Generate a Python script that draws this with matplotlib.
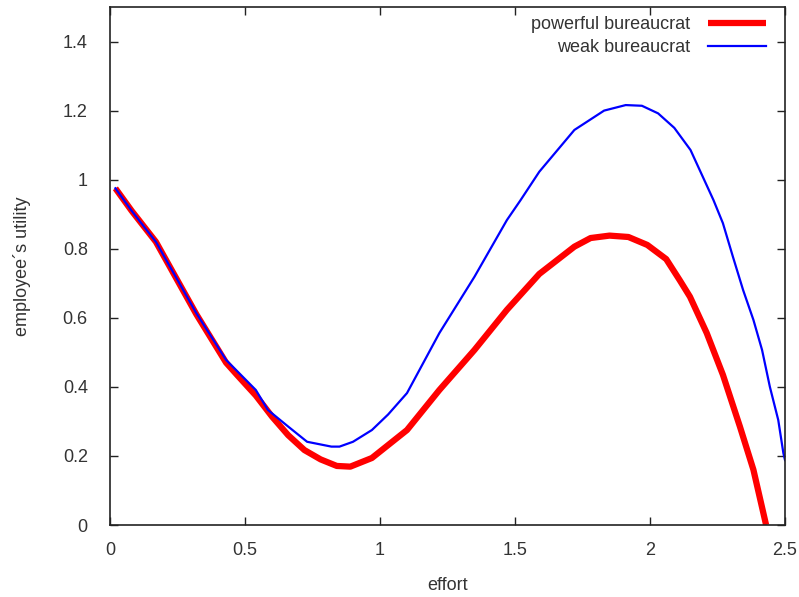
import matplotlib
matplotlib.use("Agg")
import matplotlib.pyplot as plt

# values
effort_powerful = [0.02, 0.08, 0.17, 0.32, 0.43, 0.47, 0.54, 0.60, 0.66, 0.72, 0.78, 0.84,
                   0.89, 0.97, 1.10, 1.22, 1.35, 1.47, 1.59, 1.72, 1.78, 1.85, 1.92, 1.99,
                   2.06, 2.11, 2.148, 2.21, 2.27, 2.333, 2.383, 2.43]
utility_powerful = [0.975, 0.91, 0.82, 0.61, 0.47, 0.435, 0.375, 0.314, 0.26, 0.217, 0.19, 0.171,
                    0.169, 0.194, 0.275, 0.391, 0.507, 0.623, 0.727, 0.806, 0.831, 0.838, 0.834, 0.811,
                    0.77, 0.709, 0.661, 0.556, 0.435, 0.285, 0.16, 0.0]

effort_weak = [0.02, 0.08, 0.17, 0.32, 0.43, 0.54, 0.585, 0.66, 0.73, 0.82, 0.85, 0.90,
               0.97, 1.03, 1.10, 1.22, 1.35, 1.47, 1.52, 1.59, 1.72, 1.83, 1.91, 1.97, 2.03,
               2.09, 2.15, 2.235, 2.27, 2.307, 2.345, 2.383, 2.415, 2.444, 2.475, 2.494, 2.5]
utility_weak = [0.975, 0.91, 0.82, 0.613, 0.478, 0.391, 0.333, 0.285, 0.241, 0.227, 0.227, 0.241,
                0.275, 0.32, 0.382, 0.556, 0.719, 0.883, 0.94, 1.023, 1.144, 1.20, 1.216, 1.214, 1.192,
                1.15, 1.086, 0.941, 0.874, 0.777, 0.68, 0.594, 0.507, 0.40, 0.304, 0.208, 0.188]

x_ticks = [0, 0.5, 1, 1.5, 2, 2.5]
x_labels = ["0", "0.5", "1", "1.5", "2", "2.5"]
y_ticks = [0, 0.2, 0.4, 0.6, 0.8, 1.0, 1.2, 1.4]
y_labels = ["0", "0.2", "0.4", "0.6", "0.8", "1", "1.2", "1.4"]

plt.rcParams["font.family"] = ["Liberation Sans", "DejaVu Sans"]
text_color = "#333333"

fig = plt.figure(figsize=(7.99, 5.97), dpi=100)
ax = fig.add_axes([110 / 799, 72 / 597, 675 / 799, 518 / 597])

ax.plot(effort_powerful, utility_powerful, color="#ff0000", lw=4.5,
        solid_capstyle="butt", solid_joinstyle="round", label="powerful bureaucrat")
ax.plot(effort_weak, utility_weak, color="#0000ff", lw=1.6,
        solid_joinstyle="round", label="weak bureaucrat")

ax.set_xlim(0, 2.5)
ax.set_ylim(0, 1.5)
ax.set_xticks(x_ticks)
ax.set_xticklabels(x_labels)
ax.set_yticks(y_ticks)
ax.set_yticklabels(y_labels)
ax.tick_params(direction="in", top=True, right=True, length=6, width=1,
               labelsize=13, labelcolor=text_color, color="#222222")
ax.tick_params(axis="x", pad=12)
ax.tick_params(axis="y", pad=16)
for s in ax.spines.values():
    s.set_linewidth(1.2)
    s.set_color("#222222")

ax.set_xlabel("effort", fontsize=13, color=text_color, labelpad=13)
ax.set_ylabel("employee´s utility", fontsize=13, color=text_color, labelpad=23)

leg = ax.legend(loc="upper right", frameon=False, fontsize=13, markerfirst=False,
                handlelength=3.2, handletextpad=1.0, borderaxespad=0.1,
                labelspacing=0.35, bbox_to_anchor=(0.985, 1.0))
for t in leg.get_texts():
    t.set_color(text_color)
    t.set_ha("right")

fig.savefig("out.png", dpi=100)
